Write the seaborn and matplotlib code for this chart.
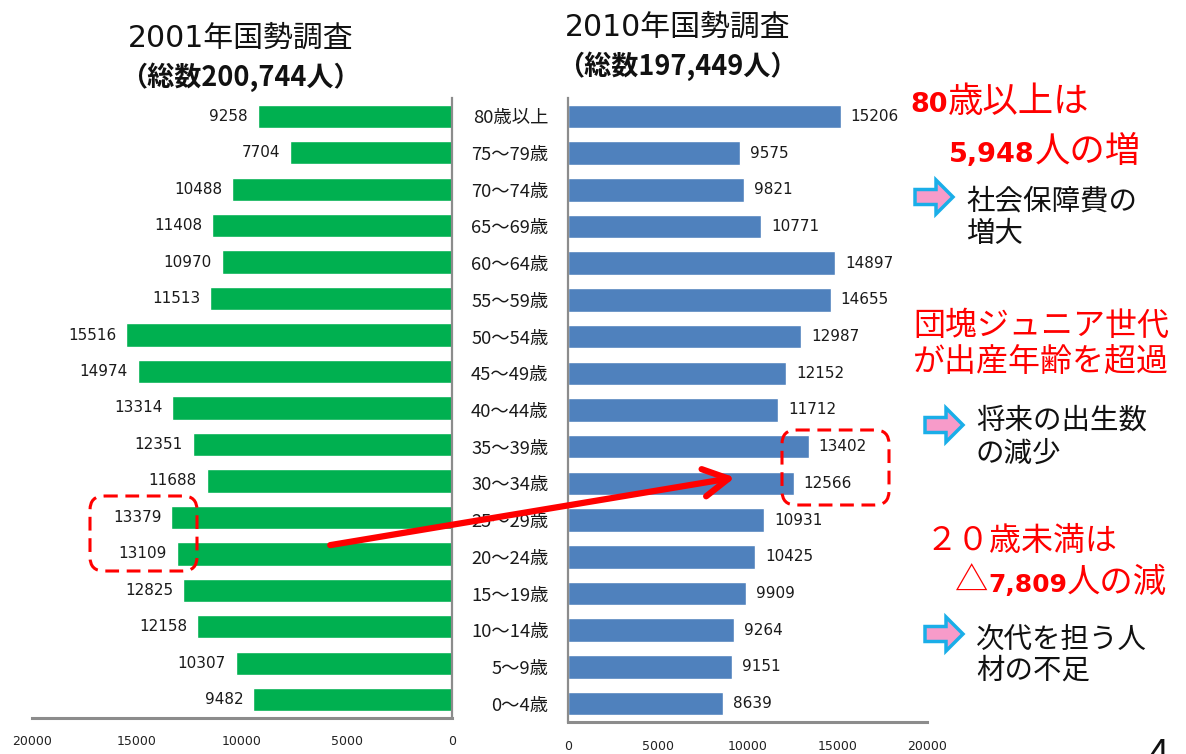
import matplotlib
matplotlib.use("Agg")
import matplotlib.pyplot as plt
import matplotlib.patches as mpatches
from matplotlib.offsetbox import TextArea, HPacker, AnnotationBbox
import seaborn as sns

# age groups, top row first
age_groups = ["80歳以上", "75～79歳", "70～74歳", "65～69歳", "60～64歳", "55～59歳",
              "50～54歳", "45～49歳", "40～44歳", "35～39歳", "30～34歳", "25～29歳",
              "20～24歳", "15～19歳", "10～14歳", "5～9歳", "0～4歳"]
pop_2001 = [9258, 7704, 10488, 11408, 10970, 11513, 15516, 14974, 13314,
            12351, 11688, 13379, 13109, 12825, 12158, 10307, 9482]
pop_2010 = [15206, 9575, 9821, 10771, 14897, 14655, 12987, 12152, 11712,
            13402, 12566, 10931, 10425, 9909, 9264, 9151, 8639]
x_ticks = [0, 5000, 10000, 15000, 20000]

GREEN = "#00B050"
BLUE = "#4F81BD"
RED = "#FF0000"
SPINE = "#8C8C8C"
CJK = "Noto Sans CJK JP"
LATIN_FIRST = ["DejaVu Sans", CJK]

sns.set_theme(style="white")
plt.rcParams["font.family"] = [CJK, "DejaVu Sans"]

W, H = 1186, 754
fig = plt.figure(figsize=(W / 100, H / 100), dpi=100)


def px_axes(x0, y0, x1, y1):
    # pixel box (top-left origin) -> figure fraction
    return fig.add_axes([x0 / W, 1 - y1 / H, (x1 - x0) / W, (y1 - y0) / H])


ax1 = px_axes(32, 98, 452, 718)
ax2 = px_axes(568, 98, 927, 722)

sns.barplot(x=pop_2001, y=age_groups, ax=ax1, color=GREEN, saturation=1,
            width=0.64, orient="h")
sns.barplot(x=pop_2010, y=age_groups, ax=ax2, color=BLUE, saturation=1,
            width=0.64, orient="h")

ax1.set_xlim(20000, 0)
ax2.set_xlim(0, 20000)
for ax in (ax1, ax2):
    ax.set_ylim(len(age_groups) - 0.5, -0.5)
    ax.set_xlabel("")
    ax.set_ylabel("")
    ax.set_xticks(x_ticks)
    ax.set_xticklabels([str(t) for t in x_ticks], family="DejaVu Sans",
                       fontsize=9, color="#222222")
    for side in ("top", "left", "right", "bottom"):
        ax.spines[side].set_visible(False)
    ax.spines["bottom"].set_visible(True)
    ax.spines["bottom"].set_color(SPINE)
    ax.spines["bottom"].set_linewidth(2.2)
    ax.bar_label(ax.containers[0], padding=7, fontsize=11,
                 family="DejaVu Sans", color="#1a1a1a")

ax1.spines["right"].set_visible(True)
ax1.spines["right"].set_color(SPINE)
ax1.spines["right"].set_linewidth(1.6)
ax1.set_yticks([])
ax1.tick_params(axis="x", length=0, pad=12.5)

ax2.spines["left"].set_visible(True)
ax2.spines["left"].set_color(SPINE)
ax2.spines["left"].set_linewidth(1.6)
ax2.set_yticks(range(len(age_groups)))
ax2.set_yticklabels(age_groups, fontsize=13.2, color="#1a1a1a")
ax2.tick_params(axis="y", length=0, pad=14)
ax2.tick_params(axis="x", length=0, pad=13)

# overlay in pixel units for the annotations
ov = fig.add_axes([0, 0, 1, 1])
ov.set_xlim(0, W)
ov.set_ylim(H, 0)
ov.axis("off")

ov.text(241, 38, "2001年国勢調査", fontsize=21.5, family=LATIN_FIRST,
        ha="center", va="center", color="#111111")
ov.text(240, 77, "（総数200,744人）", fontsize=19.5, weight="bold",
        ha="center", va="center", color="#111111")
ov.text(678, 27, "2010年国勢調査", fontsize=21.5, family=LATIN_FIRST,
        ha="center", va="center", color="#111111")
ov.text(677, 66, "（総数197,449人）", fontsize=19.5, weight="bold",
        ha="center", va="center", color="#111111")


def mixed(x, y, parts, color, dsize, csize):
    # bold digits in a wider latin face, kanji in regular weight, on one baseline
    boxes = []
    for s, digits in parts:
        if digits:
            props = dict(fontsize=dsize, weight="bold", family="DejaVu Sans", color=color)
        else:
            props = dict(fontsize=csize, weight="normal", family=CJK, color=color)
        boxes.append(TextArea(s, textprops=props))
    pack = HPacker(children=boxes, align="baseline", pad=0, sep=0)
    ov.add_artist(AnnotationBbox(pack, (x, y), xycoords="data", frameon=False,
                                 box_alignment=(0, 0.5), pad=0))


mixed(910, 102, [("80", True), ("歳以上は", False)], RED, 19.5, 25.5)
mixed(949, 152, [("5,948", True), ("人の増", False)], RED, 19.5, 25.5)
ov.text(913, 326, "団塊ジュニア世代", fontsize=23, color=RED, ha="left", va="center")
ov.text(913, 362, "が出産年齢を超過", fontsize=23, color=RED, ha="left", va="center")
ov.text(926, 541, "２０歳未満は", fontsize=23, color=RED, ha="left", va="center")
mixed(955, 582, [("△", False), ("7,809", True), ("人の減", False)], RED, 18, 24)

notes = [(197, 201, 234, "社会保障費の", "増大"),
         (425, 421, 454, "将来の出生数", "の減少"),
         (634, 640, 671, "次代を担う人", "材の不足")]
for i, (ay, y1, y2, l1, l2) in enumerate(notes):
    ax0 = 915 if i == 0 else 925
    tx = 966 if i == 0 else 976
    ov.add_patch(mpatches.FancyArrow(ax0, ay, 38, 0, width=15, head_width=34,
                                     head_length=17, length_includes_head=True,
                                     fc="#F79BC9", ec="#1AAEE8", lw=2.5))
    ov.text(tx, y1, l1, fontsize=20.5, color="#111111", ha="left", va="center")
    ov.text(tx, y2, l2, fontsize=20.5, color="#111111", ha="left", va="center")

# dashed boxes around the baby-boom-junior rows
for (x0, y0, x1, y1) in [(90, 496, 197, 571), (782, 430, 889, 505)]:
    ov.add_patch(mpatches.FancyBboxPatch((x0, y0), x1 - x0, y1 - y0,
                                         boxstyle="round,pad=0,rounding_size=14",
                                         fill=False, ec=RED, lw=2.2, ls=(0, (4.5, 2.5))))

# arrow from 2001 20-24 cohort to 2010 30-34 cohort
con = mpatches.ConnectionPatch(xyA=(5800, 11.76), coordsA=ax1.transData,
                               xyB=(9300, 9.84), coordsB=ax2.transData,
                               arrowstyle="->,head_length=0.6,head_width=0.33",
                               mutation_scale=30, color=RED, lw=4.5)
fig.add_artist(con)

# page number, partly cut off at the bottom edge like the slide
ov.text(1148, 737, "4", fontsize=26, color="#111111", ha="left", va="top")

fig.savefig("out.png", dpi=100)
